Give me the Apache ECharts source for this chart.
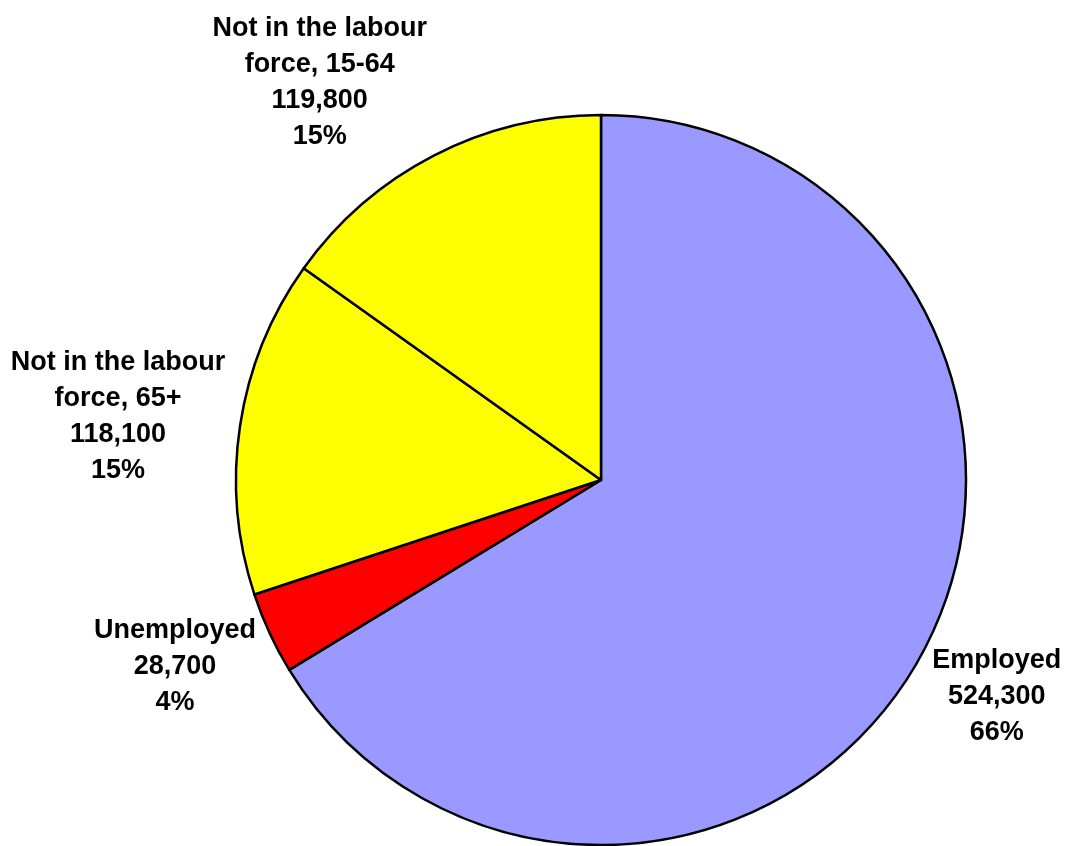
<!DOCTYPE html>
<html>
<head>
<meta charset="utf-8">
<title>Population 15+ by labour force status</title>
<script src="https://cdn.jsdelivr.net/npm/echarts@6/dist/echarts.min.js"></script>
<style>
  html, body { margin: 0; padding: 0; background: #ffffff; }
  #chart { width: 1065px; height: 846px; }
</style>
</head>
<body>
<div id="chart"></div>
<script>
// Labour force status categories, in clockwise order from 12 o'clock
const categories = [
  'Employed',
  'Unemployed',
  'Not in the labour force, 65+',
  'Not in the labour force, 15-64'
];
const values = [524300, 28700, 118100, 119800];
const colors = ['#9999FF', '#FF0000', '#FFFF00', '#FFFF00'];

// Pie geometry
const CX = 601, CY = 480, R = 365;
const LABEL_GAP = 15;
const LABEL_DROP = 4;

const total = values.reduce((a, b) => a + b, 0);

// Middle angle of each slice, clockwise from the top (radians)
const midAngles = [];
{
  let acc = 0;
  values.forEach(v => {
    midAngles.push((acc + v / 2) / total * 2 * Math.PI);
    acc += v;
  });
}

const fmtNum = n => n.toString().replace(/\B(?=(\d{3})+(?!\d))/g, ',');

const chart = echarts.init(document.getElementById('chart'), null, { renderer: 'canvas' });

chart.setOption({
  backgroundColor: '#ffffff',
  animation: false,
  series: [{
    type: 'pie',
    center: [CX, CY],
    radius: R,
    startAngle: 90,
    clockwise: true,
    avoidLabelOverlap: false,
    silent: true,
    data: categories.map((name, i) => ({
      name: name,
      value: values[i],
      itemStyle: { color: colors[i] }
    })),
    itemStyle: { borderColor: '#000000', borderWidth: 2.5 },
    label: {
      show: true,
      position: 'outside',
      color: '#000000',
      fontFamily: 'Arial, "Liberation Sans", sans-serif',
      fontWeight: 'bold',
      fontSize: 27,
      lineHeight: 36,
      align: 'center',
      formatter: p => [
        p.name.replace(' force', '\nforce'),
        fmtNum(p.value),
        Math.round(p.value / total * 100) + '%'
      ].join('\n')
    },
    labelLine: { show: false },
    // Place each label just outside the rim: horizontally flush against the
    // anchor point on the slice's mid-angle, vertically shifted by the angle.
    labelLayout: function (params) {
      const a = midAngles[params.dataIndex];
      const dx = Math.sin(a), dy = -Math.cos(a);
      const ax = CX + dx * (R + LABEL_GAP);
      const ay = CY + dy * (R + LABEL_GAP);
      const w = params.labelRect.width / 2;
      const h = params.labelRect.height / 2;
      return {
        x: ax + (dx >= 0 ? w : -w),
        y: ay + dy * h + LABEL_DROP,
        align: 'center',
        verticalAlign: 'middle'
      };
    }
  }]
});
</script>
</body>
</html>
